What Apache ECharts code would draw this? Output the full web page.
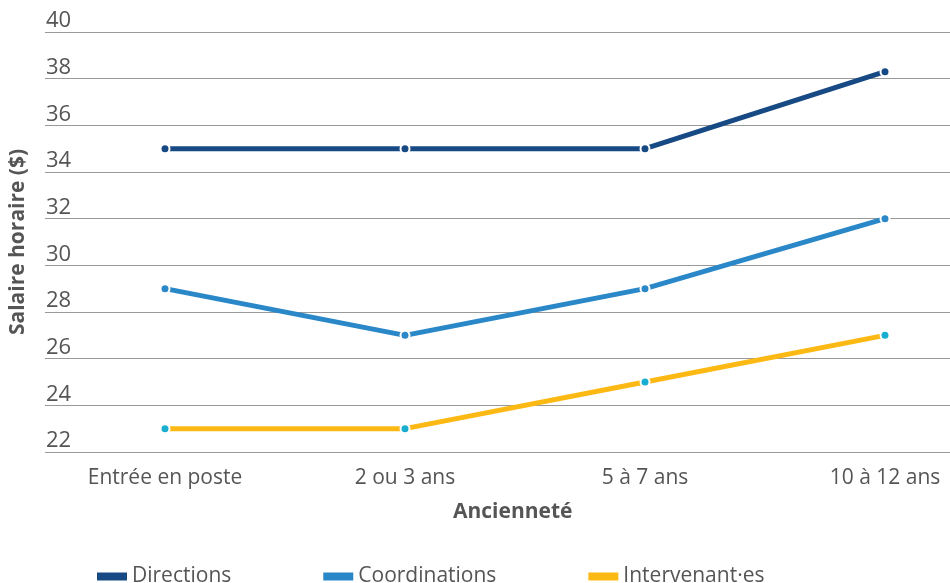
<!DOCTYPE html>
<html><head><meta charset="utf-8">
<script src="https://cdn.jsdelivr.net/npm/echarts@6/dist/echarts.min.js"></script>
<style>html,body{margin:0;padding:0;background:#fff}#c{width:950px;height:583px}</style>
</head><body><div id="c"></div>
<script>
const categories = ['Entrée en poste', '2 ou 3 ans', '5 à 7 ans', '10 à 12 ans'];
const directions = [35, 35, 35, 38.3];
const coordinations = [29, 27, 29, 32];
const intervenants = [23, 23, 25, 27];
const seriesNames = ['Directions', 'Coordinations', 'Intervenant·es'];
const yTitle = 'Salaire horaire ($)';
const xTitle = 'Ancienneté';

const font = '"Open Sans", "Noto Sans", sans-serif';
const chart = echarts.init(document.getElementById('c'), null, {renderer: 'canvas'});
function mk(name, data, color, markerColor) {
  return {
    name, type: 'line', data,
    lineStyle: {color, width: 5},
    itemStyle: {color: markerColor || color, borderColor: '#fff', borderWidth: 2},
    symbol: 'circle', symbolSize: 9, showSymbol: true,
    emphasis: {disabled: true}, z: 3
  };
}
chart.setOption({
  animation: false,
  textStyle: {fontFamily: font},
  grid: {left: 45, top: 32, right: -55, bottom: 131, containLabel: false, outerBoundsMode: 'none'},
  legend: {
    left: 97, top: 566, itemWidth: 30, itemHeight: 8, itemGap: 92, padding: 0,
    icon: 'rect',
    textStyle: {fontSize: 21, color: '#555', fontFamily: font},
    data: [
      {name: seriesNames[0], itemStyle: {color: '#174a84', borderWidth: 0}},
      {name: seriesNames[1], itemStyle: {color: '#2a87c8', borderWidth: 0}},
      {name: seriesNames[2], itemStyle: {color: '#fdb913', borderWidth: 0}}
    ]
  },
  xAxis: {
    type: 'category', data: categories, boundaryGap: true,
    axisLine: {show: false}, axisTick: {show: false},
    axisLabel: {fontSize: 21, color: '#555', margin: 16, fontFamily: font}
  },
  yAxis: {
    type: 'value', min: 22, max: 40, interval: 2,
    name: yTitle, nameLocation: 'middle', nameGap: 16,
    nameTextStyle: {fontSize: 21, fontWeight: 'bold', color: '#555', fontFamily: font},
    axisLine: {show: false}, axisTick: {show: false},
    axisLabel: {inside: true, margin: 1, verticalAlign: 'bottom', fontSize: 22, color: '#555', fontFamily: font, padding: [0,0,0,0]},
    splitLine: {lineStyle: {color: '#999', width: 1}}
  },
  graphic: [{
    type: 'text', left: 453, top: 502,
    style: {text: xTitle, font: 'bold 21px ' + font, fill: '#555'}
  }],
  series: [
    mk(seriesNames[0], directions, '#174a84'),
    mk(seriesNames[1], coordinations, '#2a87c8'),
    mk(seriesNames[2], intervenants, '#fdb913', '#19aecf')
  ]
});
</script></body></html>
